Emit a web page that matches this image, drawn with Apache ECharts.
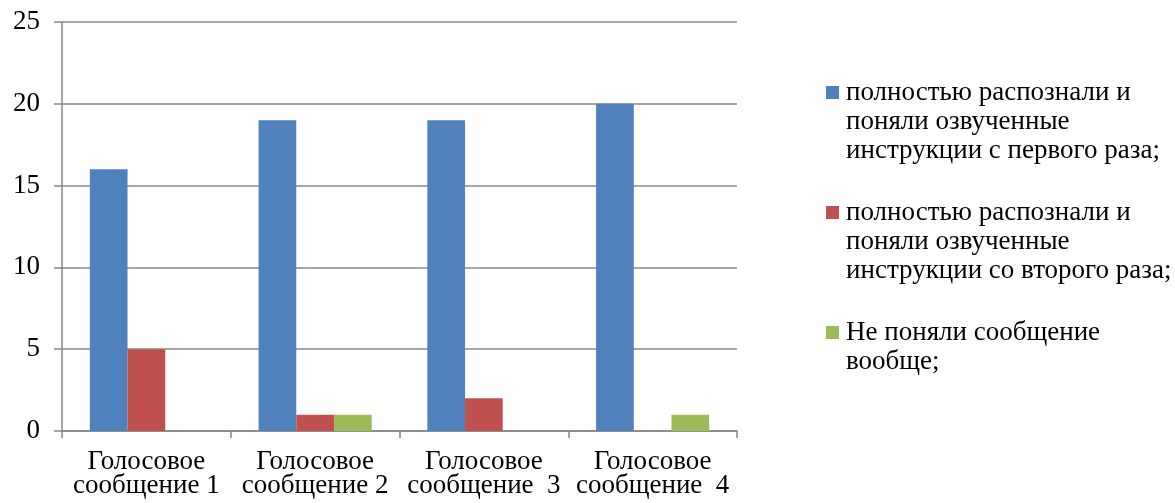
<!DOCTYPE html>
<html>
<head>
<meta charset="utf-8">
<script src="https://cdn.jsdelivr.net/npm/echarts@6/dist/echarts.min.js"></script>
<style>
  html, body { margin: 0; padding: 0; background: #fff; }
  #chart { width: 1175px; height: 503px; }
</style>
</head>
<body>
<div id="chart"></div>
<script>
// Categories (voice messages) and the three response groups
const categories = [
  'Голосовое\nсообщение 1',
  'Голосовое\nсообщение 2',
  'Голосовое\nсообщение  3',
  'Голосовое\nсообщение  4'
];

const firstTimeValues  = [16, 19, 19, 20];
const secondTimeValues = [5, 1, 2, 0];
const notUnderstood    = [0, 1, 0, 1];

const yTicks = { min: 0, max: 25, interval: 5 };

// Legend texts, already broken into lines
const legendLines = [
  ['полностью распознали и', 'поняли озвученные', 'инструкции с первого раза;'],
  ['полностью распознали и', 'поняли озвученные', 'инструкции со второго раза;'],
  ['Не поняли сообщение', 'вообще;']
];
const seriesNames = legendLines.map(l => l.join(' '));
const colors = ['#4F81BD', '#C0504D', '#9BBB59'];

const FONT = '"Liberation Serif", "Times New Roman", serif';
const FS = 27;

// Legend swatch sits on the first text line; following lines are indented by the swatch width
const rich = {
  t: { fontFamily: FONT, fontSize: FS, color: '#000', lineHeight: 29, padding: [0, 0, 0, 7] },
  pad: { width: 13, height: 13 }
};
colors.forEach((c, i) => {
  rich['m' + i] = { width: 13, height: 13, backgroundColor: c, verticalAlign: 'middle' };
});

const chart = echarts.init(document.getElementById('chart'));
chart.setOption({
  animation: false,
  color: colors,
  grid: { left: 62, right: 438, top: 22, bottom: 72, containLabel: false, outerBoundsMode: 'none' },
  legend: {
    orient: 'vertical',
    left: 816,
    top: 73,
    itemGap: 33,
    itemWidth: 0,
    itemHeight: 12,
    itemStyle: { opacity: 0 },
    selectedMode: false,
    data: seriesNames,
    formatter: name => {
      const idx = seriesNames.indexOf(name);
      return legendLines[idx]
        .map((line, i) => (i === 0 ? '{m' + idx + '|}' : '{pad|}') + '{t|' + line + '}')
        .join('\n');
    },
    textStyle: { fontFamily: FONT, fontSize: FS, color: '#000', lineHeight: 29, rich: rich }
  },
  xAxis: {
    type: 'category',
    data: categories,
    axisLine: { show: true, lineStyle: { color: '#888', width: 1.5 } },
    axisTick: { show: true, length: 7, alignWithLabel: false, lineStyle: { color: '#888', width: 1.5 } },
    axisLabel: {
      interval: 0,
      margin: 19,
      fontFamily: FONT,
      fontSize: FS,
      lineHeight: 24,
      color: '#000'
    }
  },
  yAxis: {
    type: 'value',
    min: yTicks.min,
    max: yTicks.max,
    interval: yTicks.interval,
    axisLine: { show: true, lineStyle: { color: '#888', width: 1.5 } },
    axisTick: { show: true, length: 8, lineStyle: { color: '#888', width: 1.5 } },
    splitLine: { show: true, lineStyle: { color: '#888', width: 1.5 } },
    axisLabel: {
      margin: 22,
      fontFamily: FONT,
      fontSize: FS,
      color: '#000'
    }
  },
  series: [
    { name: seriesNames[0], type: 'bar', data: firstTimeValues, barGap: '0%', barCategoryGap: '33%' },
    { name: seriesNames[1], type: 'bar', data: secondTimeValues, barGap: '0%', barCategoryGap: '33%' },
    { name: seriesNames[2], type: 'bar', data: notUnderstood, barGap: '0%', barCategoryGap: '33%' }
  ]
});
</script>
</body>
</html>
